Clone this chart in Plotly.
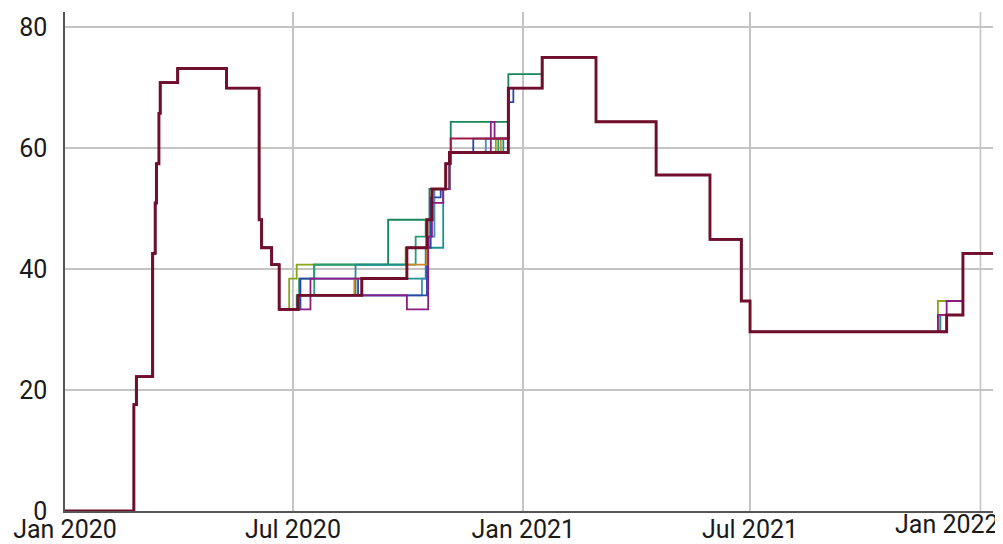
import plotly.graph_objects as go

# ---- common segments (shared by every series) ----
START_DATES = ["2020-01-01", "2020-02-25", "2020-02-27", "2020-03-11", "2020-03-13",
               "2020-03-14", "2020-03-16", "2020-03-17", "2020-03-31", "2020-05-09",
               "2020-06-04", "2020-06-06", "2020-06-14", "2020-06-20"]
START_VALUES = [0, 17.59, 22.22, 42.59, 50.93, 57.41, 65.74, 70.83, 73.15, 69.91,
                48.15, 43.52, 40.74, 33.33]

MID_DATES = ["2021-01-16", "2021-02-28", "2021-04-17", "2021-05-30", "2021-06-24",
             "2021-07-01"]
MID_VALUES = [75.0, 64.35, 55.56, 44.91, 34.72, 29.63]

END_DATES = ["2022-01-11"]
END_VALUES = [42.59]

# ---- per-series divergent parts (2020 second wave, Dec 2021) ----
OLIVE_D = ["2020-06-28", "2020-07-04", "2020-09-29", "2020-10-18", "2020-10-21", "2020-11-03", "2020-12-10", "2020-12-20"]
OLIVE_V = [38.43, 40.74, 43.52, 48.15, 53.24, 59.26, 61.57, 69.91]
OLIVE_LD = ["2021-11-28", "2021-12-18"]
OLIVE_LV = [34.72, 42.59]

GREEN_D = ["2020-07-06", "2020-07-18", "2020-09-15", "2020-10-18", "2020-10-31", "2020-11-04", "2020-12-20"]
GREEN_V = [38.43, 40.74, 48.15, 53.24, 57.41, 64.35, 72.22]
GREEN_LD = ["2021-11-29", "2021-12-18"]
GREEN_LV = [32.41, 42.59]

GREEN2_D = ["2020-07-04", "2020-07-18", "2020-10-07", "2020-10-15", "2020-10-20", "2020-11-03", "2020-12-12", "2020-12-20"]
GREEN2_V = [35.65, 40.74, 45.37, 48.15, 53.24, 59.26, 61.57, 69.91]
GREEN2_LD = ["2021-11-29", "2021-12-18"]
GREEN2_LV = [32.41, 42.59]

TEAL_D = ["2020-07-06", "2020-08-20", "2020-09-30", "2020-10-15", "2020-10-29", "2020-11-03", "2020-12-16", "2020-12-20"]
TEAL_V = [35.65, 40.74, 38.43, 43.52, 53.24, 59.26, 61.57, 69.91]
TEAL_LD = ["2021-11-30", "2021-12-18"]
TEAL_LV = [32.41, 42.59]

LBLUE_D = ["2020-07-06", "2020-10-12", "2020-10-17", "2020-10-22", "2020-11-03", "2020-12-02", "2020-12-20"]
LBLUE_V = [35.65, 38.43, 45.37, 53.24, 59.26, 61.57, 69.91]
LBLUE_LD = ["2021-11-29", "2021-12-18"]
LBLUE_LV = [32.41, 42.59]

BLUE_D = ["2020-07-07", "2020-08-22", "2020-10-16", "2020-10-19", "2020-10-27", "2020-11-03", "2020-11-22", "2020-12-20", "2020-12-24"]
BLUE_V = [38.43, 35.65, 43.52, 51.85, 53.24, 59.26, 61.57, 67.59, 69.91]
BLUE_LD = ["2021-11-28", "2021-12-18"]
BLUE_LV = [32.41, 42.59]

ORANGE_D = ["2020-07-05", "2020-08-19", "2020-09-30", "2020-10-16", "2020-10-21", "2020-11-03", "2020-12-14", "2020-12-20"]
ORANGE_V = [35.65, 38.43, 40.74, 48.15, 53.24, 59.26, 61.57, 69.91]
ORANGE_LD = ["2021-11-29", "2021-12-18"]
ORANGE_LV = [32.41, 42.59]

PURPLE_D = ["2020-07-15", "2020-08-25", "2020-09-30", "2020-10-17", "2020-10-20", "2020-10-29", "2020-11-03", "2020-12-06", "2020-12-09", "2020-12-20"]
PURPLE_V = [38.43, 35.65, 33.33, 45.37, 50.93, 53.24, 59.26, 64.35, 61.57, 69.91]
PURPLE_LD = ["2021-11-28", "2021-12-05", "2021-12-18"]
PURPLE_LV = [32.41, 34.72, 42.59]

CRIMSON_D = ["2020-07-05", "2020-08-25", "2020-09-30", "2020-10-16", "2020-10-20", "2020-10-31", "2020-11-04", "2020-12-20"]
CRIMSON_V = [35.65, 38.43, 43.52, 48.15, 53.24, 57.41, 61.57, 69.91]
CRIMSON_LD = ["2021-12-05", "2021-12-18"]
CRIMSON_LV = [32.41, 42.59]

MAROON_D = ["2020-07-05", "2020-08-25", "2020-09-30", "2020-10-16", "2020-10-20", "2020-10-31", "2020-11-03", "2020-12-20"]
MAROON_V = [35.65, 38.43, 43.52, 48.15, 53.24, 57.41, 59.26, 69.91]
MAROON_LD = ["2021-12-05", "2021-12-18"]
MAROON_LV = [32.41, 42.59]

X_TICKS = ["2020-01-01", "2020-07-01", "2021-01-01", "2021-07-01", "2022-01-01"]
X_TICK_LABELS = ["Jan 2020", "Jul 2020", "Jan 2021", "Jul 2021", "Jan 2022"]
Y_TICKS = [0, 20, 40, 60, 80]

SERIES = [
    ("olive", "#86a61c", 1.8, OLIVE_D, OLIVE_V, OLIVE_LD, OLIVE_LV),
    ("green", "#17865a", 1.8, GREEN_D, GREEN_V, GREEN_LD, GREEN_LV),
    ("green2", "#2a9c74", 1.8, GREEN2_D, GREEN2_V, GREEN2_LD, GREEN2_LV),
    ("teal", "#1f8f92", 1.8, TEAL_D, TEAL_V, TEAL_LD, TEAL_LV),
    ("lightblue", "#3f8fc2", 1.8, LBLUE_D, LBLUE_V, LBLUE_LD, LBLUE_LV),
    ("blue", "#2c48a6", 1.8, BLUE_D, BLUE_V, BLUE_LD, BLUE_LV),
    ("orange", "#cc8a27", 1.8, ORANGE_D, ORANGE_V, ORANGE_LD, ORANGE_LV),
    ("purple", "#8c1c84", 1.8, PURPLE_D, PURPLE_V, PURPLE_LD, PURPLE_LV),
    ("crimson", "#a11a45", 2.0, CRIMSON_D, CRIMSON_V, CRIMSON_LD, CRIMSON_LV),
    ("maroon", "#6f0f2c", 2.9, MAROON_D, MAROON_V, MAROON_LD, MAROON_LV),
]

fig = go.Figure()
for name, color, width, d, v, ld, lv in SERIES:
    xs = START_DATES + d + MID_DATES + ld + END_DATES
    ys = START_VALUES + v + MID_VALUES + lv + END_VALUES
    fig.add_trace(go.Scatter(x=xs, y=ys, mode="lines", name=name,
                             line=dict(color=color, width=width, shape="hv"),
                             hoverinfo="skip"))

FONT = dict(family="Roboto", size=25, color="#1a1a1a")

# the page body has an 8px margin, so the figure is sized to fit the window from (8, 8)
fig.update_layout(
    width=995, height=536,
    margin=dict(l=57, r=10, t=4, b=33, autoexpand=False),
    paper_bgcolor="white", plot_bgcolor="white",
    showlegend=False,
    font=FONT,
)
fig.update_xaxes(
    range=["2020-01-01", "2022-01-11"],
    tickvals=X_TICKS[:-1], ticktext=X_TICK_LABELS[:-1],
    showgrid=True, gridcolor="#c4c4c4", gridwidth=1.6,
    showline=True, linecolor="#555555", linewidth=1.5,
    ticks="", ticklabelstandoff=-5, automargin=False,
    zeroline=False,
)
# last month gridline + its label, pulled inside the page like the reference
fig.add_shape(type="line", xref="x", yref="paper", x0=X_TICKS[-1], x1=X_TICKS[-1], y0=0, y1=1,
              line=dict(color="#c4c4c4", width=1.6), layer="below")
fig.add_annotation(xref="paper", yref="paper", x=1.0, y=0, xshift=8, yshift=3,
                   xanchor="right", yanchor="top", showarrow=False,
                   text=X_TICK_LABELS[-1], font=FONT)
fig.update_yaxes(
    range=[0, 82.5],
    tickvals=Y_TICKS,
    showgrid=True, gridcolor="#c4c4c4", gridwidth=1.6,
    showline=True, linecolor="#555555", linewidth=1.5,
    ticks="", ticklabelstandoff=11, automargin=False,
    zeroline=False,
)

fig.write_html("out.html")
